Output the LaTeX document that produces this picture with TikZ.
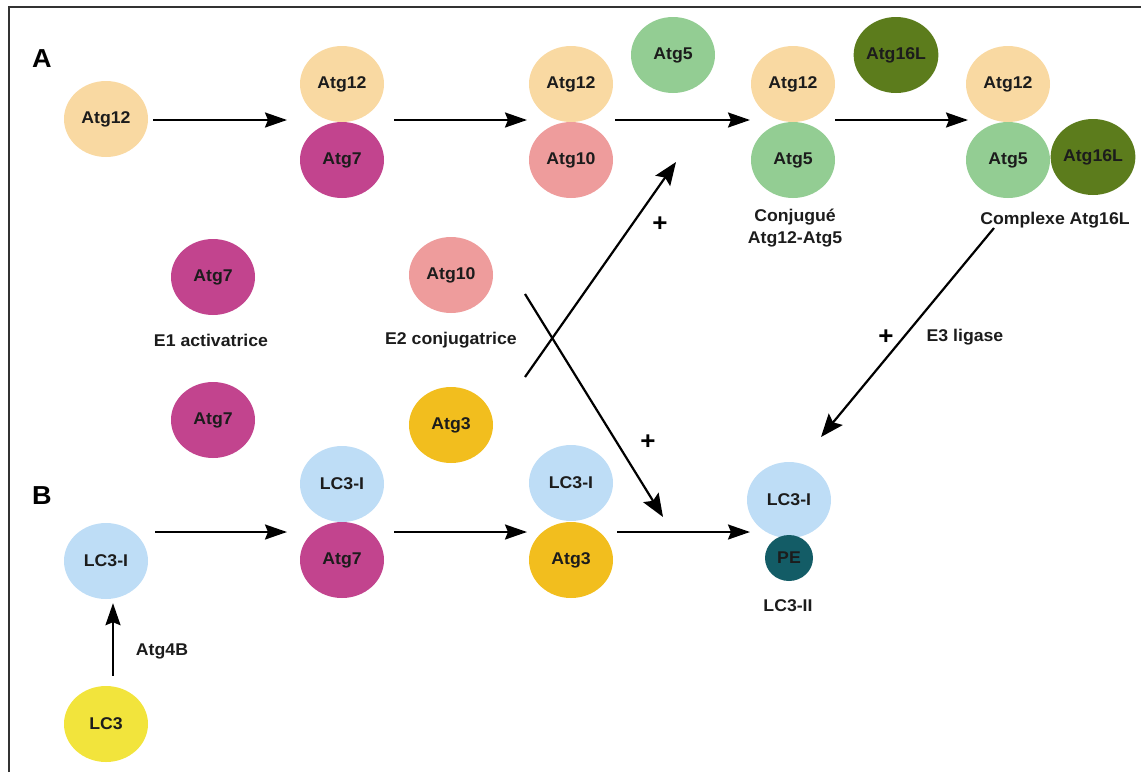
\documentclass[tikz,border=0pt]{standalone}
\usepackage{fontspec}
\setmainfont{Liberation Sans}[FakeStretch=1.04]
\usetikzlibrary{shapes.geometric,arrows.meta}
\definecolor{cTwelve}{HTML}{F9D9A2}
\definecolor{cSeven}{HTML}{C2448E}
\definecolor{cTen}{HTML}{EE9C9C}
\definecolor{cFive}{HTML}{93CD93}
\definecolor{cSixteen}{HTML}{5C7C1C}
\definecolor{cThree}{HTML}{F2BE1E}
\definecolor{cLCI}{HTML}{BEDDF6}
\definecolor{cLC}{HTML}{F2E43C}
\definecolor{cPE}{HTML}{135C66}
\definecolor{ink}{HTML}{1C1C1C}
\tikzset{
  prot/.style={ellipse, minimum width=84pt, minimum height=76pt, inner sep=0pt,
    font=\bfseries\fontsize{17}{19}\selectfont, text=ink},
  lab/.style={font=\bfseries\fontsize{17}{22}\selectfont, text=ink, align=center, inner sep=0pt},
  big/.style={font=\bfseries\fontsize{26}{28}\selectfont, text=black, inner sep=0pt},
  plus/.style={font=\bfseries\fontsize{25}{25}\selectfont, text=black, inner sep=0pt},
  arr/.style={line width=2.2pt, draw=black, -{Stealth[length=22pt,width=15pt,inset=3pt]}},
  darr/.style={line width=2.2pt, draw=black, -{Stealth[length=23pt,width=18pt,inset=4pt]}},
  frame/.style={line width=2.5pt, draw=black!80}
}
\begin{document}
\begin{tikzpicture}[x=1pt,y=-1pt]
\useasboundingbox (0,0) rectangle (1141,772);
\draw[frame] (9,772) -- (9,7) -- (1141,7);

% labels A, B
\node[big] (lA) at (42,59) {A};
\node[big] (lB) at (42,496) {B};

% Row A
\node[prot, fill=cTwelve] (a1) at (106,119) {Atg12};
\node[prot, fill=cTwelve] (a2t) at (342,84) {Atg12};
\node[prot, fill=cSeven] (a2b) at (342,160) {Atg7};
\node[prot, fill=cTwelve] (a3t) at (571,84) {Atg12};
\node[prot, fill=cTen] (a3b) at (571,160) {Atg10};
\node[prot, fill=cFive] (a5free) at (673,55) {Atg5};
\node[prot, fill=cTwelve] (a4t) at (793,84) {Atg12};
\node[prot, fill=cFive] (a4b) at (793,160) {Atg5};
\node[prot, fill=cSixteen] (a16free) at (896,55) {Atg16L};
\node[prot, fill=cTwelve] (a5t) at (1008,84) {Atg12};
\node[prot, fill=cFive] (a5b) at (1008,160) {Atg5};
\node[prot, fill=cSixteen] (a5r) at (1093,157) {Atg16L};
\node[lab] (conj) at (795,228) {Conjugué\\Atg12-Atg5};
\node[lab] (cplx) at (1055,220) {Complexe Atg16L};

% enzymes
\node[prot, fill=cSeven] (e1) at (213,277) {Atg7};
\node[lab] (e1lab) at (211,340) {E1 activatrice};
\node[prot, fill=cTen] (e2) at (451,275) {Atg10};
\node[lab] (e2lab) at (451,340) {E2 conjugatrice};
\node[prot, fill=cSeven] (e1b) at (213,420) {Atg7};
\node[prot, fill=cThree] (e2b) at (451,425) {Atg3};

% Row B
\node[prot, fill=cLCI] (b1) at (106,561) {LC3-I};
\node[prot, fill=cLCI] (b2t) at (342,484) {LC3-I};
\node[prot, fill=cSeven] (b2b) at (342,560) {Atg7};
\node[prot, fill=cLCI] (b3t) at (571,483) {LC3-I};
\node[prot, fill=cThree] (b3b) at (571,560) {Atg3};
\node[prot, fill=cLCI] (b4) at (789,500) {LC3-I};
\node[prot, fill=cPE, minimum width=48pt, minimum height=46pt] (pe) at (789,558) {PE};
\node[lab] (lc3ii) at (788,606) {LC3-II};
\node[prot, fill=cLC] (lc3) at (106,724) {LC3};
\node[lab] (atg4b) at (162,651) {Atg4B};

% junction coordinates
\coordinate (j1) at (106,120);
\coordinate (j2) at (342,120);
\coordinate (j3) at (571,120);
\coordinate (j4) at (793,120);
\coordinate (j5) at (1008,120);
\coordinate (k1) at (106,532);
\coordinate (k2) at (342,532);
\coordinate (k3) at (571,532);
\coordinate (k4) at (789,532);

\draw[arr, shorten <=47pt, shorten >=55pt] (j1) -- (j2);
\draw[arr, shorten <=52pt, shorten >=44pt] (j2) -- (j3);
\draw[arr, shorten <=44pt, shorten >=43pt] (j3) -- (j4);
\draw[arr, shorten <=42pt, shorten >=40pt] (j4) -- (j5);
\draw[arr, shorten <=49pt, shorten >=55pt] (k1) -- (k2);
\draw[arr, shorten <=52pt, shorten >=44pt] (k2) -- (k3);
\draw[arr, shorten <=46pt, shorten >=39pt] (k3) -- (k4);
\draw[arr, shorten <=10pt, shorten >=4pt] ([xshift=7pt]lc3.north) -- ([xshift=7pt]b1.south);

% crossing arrows
\coordinate (upS) at (525,377);
\coordinate (upE) at (676,162);
\coordinate (dnS) at (525,294);
\coordinate (dnE) at (663,517);
\coordinate (e3S) at (994,228);
\coordinate (e3E) at (821,437);
\draw[darr] (upS) -- (upE);
\draw[darr] (dnS) -- (dnE);
\draw[darr] (e3S) -- (e3E);

\node[plus] (p1) at (660,224) {+};
\node[plus] (p2) at (648,442) {+};
\node[plus] (p3) at (886,337) {+};
\node[lab] (e3lab) at (965,337) {E3 ligase};
\end{tikzpicture}
\end{document}
